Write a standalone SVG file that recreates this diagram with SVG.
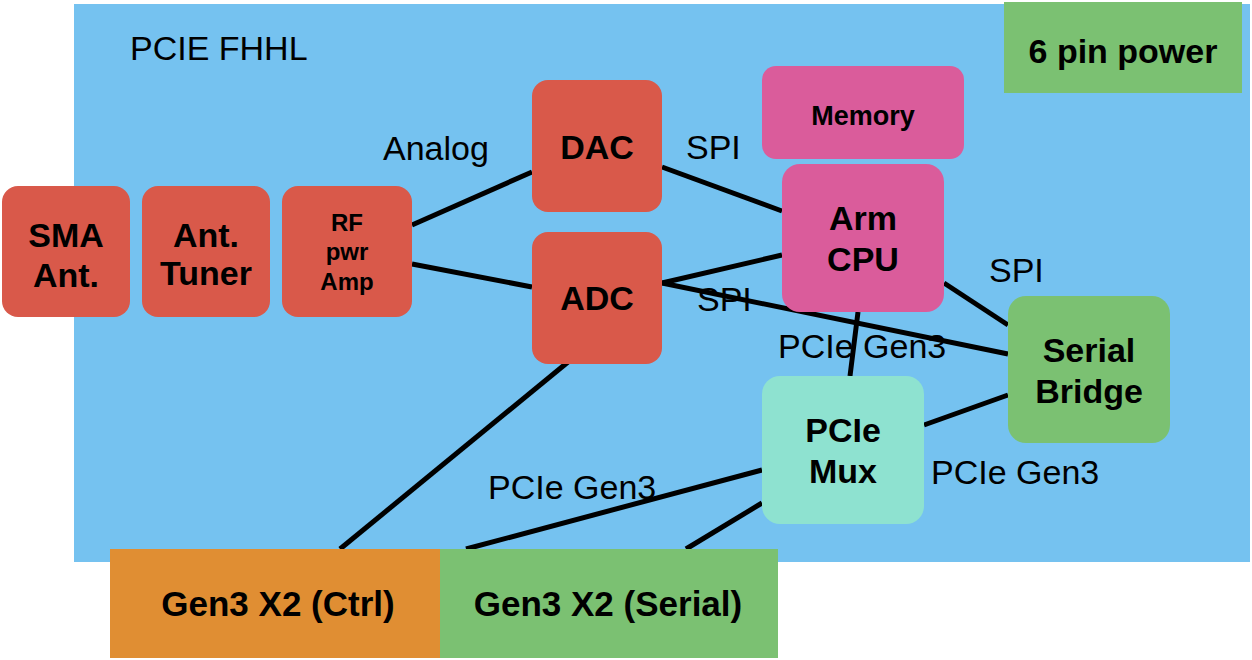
<svg xmlns="http://www.w3.org/2000/svg" width="1252" height="660" viewBox="0 0 1252 660">
<style>
.t{font-family:"Liberation Sans",Arial,sans-serif;font-size:34px;fill:#000}
.b{font-family:"Liberation Sans",Arial,sans-serif;font-weight:bold;font-size:34px;fill:#000;text-anchor:middle}
.s{font-size:24px}
.m{font-size:27px}
.g{font-size:35px}
.red{fill:#D9594A}
.pink{fill:#DA5C9B}
.green{fill:#7BC172}
.teal{fill:#8EE2D0}
.orange{fill:#E08E33}
.c line{stroke:#000;stroke-width:5;stroke-linecap:butt}
</style>
<rect width="1252" height="660" fill="#fff"/>
<g id="board">
<rect x="74" y="4" width="1176" height="558" fill="#75C2F0"/>
<text class="t" x="130" y="60">PCIE FHHL</text>
</g>
<g class="c" id="connectors">
<line x1="412" y1="225" x2="532" y2="172"/>
<line x1="412" y1="264" x2="532" y2="287"/>
<line x1="662" y1="167" x2="782" y2="211"/>
<line x1="662" y1="283" x2="782" y2="255"/>
<line x1="662" y1="283" x2="1008" y2="354"/>
<line x1="944" y1="283" x2="1008" y2="325"/>
<line x1="858" y1="312" x2="850" y2="376"/>
<line x1="924" y1="425" x2="1008" y2="395"/>
<line x1="762" y1="470" x2="466" y2="549"/>
<line x1="762" y1="503" x2="686" y2="549"/>
<line x1="568" y1="362" x2="340" y2="549"/>
</g>
<g id="labels">
<text class="t" x="383" y="160">Analog</text>
<text class="t" x="686" y="159">SPI</text>
<text class="t" x="697" y="311">SPI</text>
<text class="t" x="989" y="282">SPI</text>
<text class="t" x="778" y="358">PCIe Gen3</text>
<text class="t" x="931" y="484">PCIe Gen3</text>
<text class="t" x="488" y="499">PCIe Gen3</text>
</g>
<g id="power"><rect class="green" x="1004" y="2" width="238" height="91"/><text class="b" x="1123" y="63">6 pin power</text></g>
<g id="sma"><rect class="red" x="2" y="186" width="128" height="131" rx="16"/><text class="b" x="66" y="247">SMA</text><text class="b" x="66" y="287">Ant.</text></g>
<g id="tuner"><rect class="red" x="142" y="186" width="128" height="131" rx="16"/><text class="b" x="206" y="247">Ant.</text><text class="b" x="206" y="285">Tuner</text></g>
<g id="rfamp"><rect class="red" x="282" y="186" width="130" height="131" rx="16"/><text class="b s" x="347" y="231">RF</text><text class="b s" x="347" y="260">pwr</text><text class="b s" x="347" y="290">Amp</text></g>
<g id="dac"><rect class="red" x="532" y="80" width="130" height="132" rx="16"/><text class="b" x="597" y="159">DAC</text></g>
<g id="adc"><rect class="red" x="532" y="232" width="130" height="132" rx="16"/><text class="b" x="597" y="310">ADC</text></g>
<g id="memory"><rect class="pink" x="762" y="66" width="202" height="93" rx="14"/><text class="b m" x="863" y="125">Memory</text></g>
<g id="cpu"><rect class="pink" x="782" y="164" width="162" height="148" rx="18"/><text class="b" x="863" y="230">Arm</text><text class="b" x="863" y="271">CPU</text></g>
<g id="bridge"><rect class="green" x="1008" y="296" width="162" height="147" rx="18"/><text class="b" x="1089" y="362">Serial</text><text class="b" x="1089" y="403">Bridge</text></g>
<g id="mux"><rect class="teal" x="762" y="376" width="162" height="148" rx="18"/><text class="b" x="843" y="442">PCIe</text><text class="b" x="843" y="483">Mux</text></g>
<g id="ctrl"><rect class="orange" x="110" y="549" width="330" height="109"/><text class="b g" x="278" y="616">Gen3 X2 (Ctrl)</text></g>
<g id="serial"><rect class="green" x="440" y="549" width="338" height="109"/><text class="b g" x="608" y="616">Gen3 X2 (Serial)</text></g>
</svg>
